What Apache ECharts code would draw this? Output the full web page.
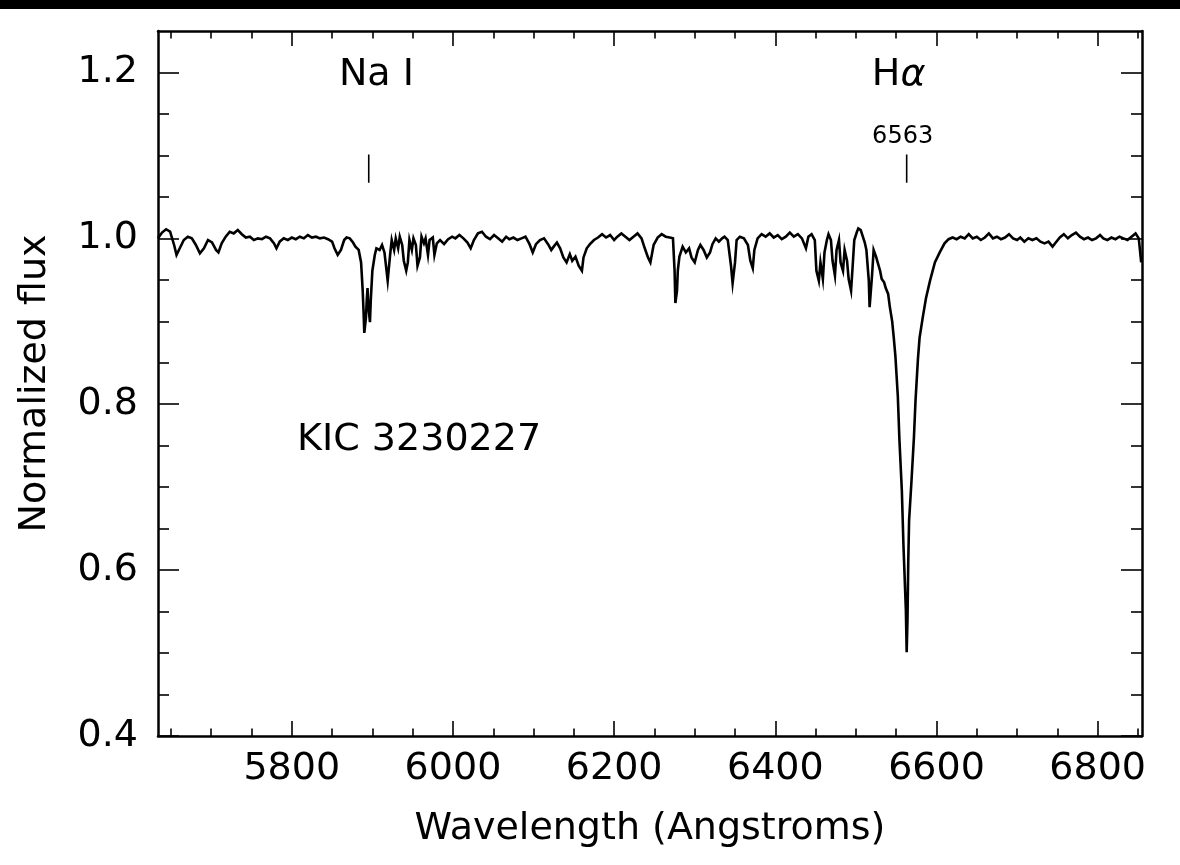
<!DOCTYPE html>
<html>
<head>
<meta charset="utf-8">
<script src="https://cdn.jsdelivr.net/npm/echarts@6/dist/echarts.min.js"></script>
<style>
html,body{margin:0;padding:0;background:#fff;}
#chart{width:1180px;height:865px;}
</style>
</head>
<body>
<div id="chart"></div>
<script>
// ---- data (wavelength in Angstroms, normalized flux) ----
const spectrum = [
[5634,1.000],[5639,1.007],[5644,1.011],[5649,1.008],[5654,0.992],[5657,0.980],[5661,0.988],[5666,0.998],[5671,1.002],[5676,1.000],
[5681,0.992],[5686,0.982],[5691,0.988],[5696,0.998],[5701,0.995],[5706,0.986],[5709,0.983],[5713,0.994],[5718,1.002],[5723,1.008],
[5728,1.006],[5733,1.010],[5738,1.005],[5743,1.001],[5748,1.002],[5753,0.998],[5758,1.000],[5763,0.999],[5768,1.002],[5773,1.000],
[5778,0.994],[5781,0.988],[5785,0.996],[5790,1.000],[5795,0.998],[5800,1.001],[5805,0.999],[5810,1.002],[5815,1.000],[5820,1.004],
[5825,1.001],[5830,1.002],[5835,1.000],[5840,1.001],[5845,0.999],[5850,0.996],[5853,0.988],[5857,0.980],[5861,0.986],[5865,0.998],
[5868,1.001],[5872,1.000],[5876,0.995],[5879,0.990],[5883,0.986],[5886,0.971],[5888,0.937],[5889,0.913],[5890,0.886],[5892,0.904],
[5893,0.925],[5894,0.940],[5895,0.919],[5897,0.899],[5898,0.925],[5900,0.961],[5903,0.980],[5905,0.988],[5909,0.986],[5912,0.992],
[5915,0.983],[5919,0.949],[5922,0.980],[5924,0.998],[5927,0.986],[5929,1.000],[5932,0.988],[5934,1.002],[5937,0.992],[5939,0.973],
[5942,0.961],[5944,0.971],[5946,0.998],[5949,0.986],[5951,1.000],[5954,0.992],[5956,0.967],[5959,0.977],[5961,1.002],[5964,0.994],
[5966,1.000],[5969,0.980],[5971,0.998],[5975,1.001],[5977,0.980],[5980,0.994],[5984,0.998],[5989,0.993],[5994,0.999],[5999,1.002],
[6003,1.000],[6008,1.004],[6013,1.000],[6018,0.995],[6022,0.988],[6026,0.998],[6031,1.006],[6036,1.008],[6041,1.002],[6046,0.999],
[6051,1.004],[6056,1.000],[6061,0.996],[6066,1.002],[6070,0.999],[6075,1.001],[6080,0.998],[6085,1.000],[6090,1.002],[6095,0.993],
[6099,0.983],[6103,0.993],[6108,0.998],[6113,1.000],[6118,0.993],[6122,0.986],[6125,0.990],[6129,0.995],[6133,0.988],[6137,0.977],
[6141,0.971],[6145,0.981],[6148,0.973],[6152,0.978],[6156,0.967],[6160,0.961],[6162,0.977],[6166,0.988],[6170,0.993],[6175,0.998],
[6180,1.001],[6185,1.005],[6190,1.001],[6195,1.004],[6200,0.998],[6204,1.002],[6209,1.006],[6214,1.002],[6219,0.998],[6224,1.002],
[6229,1.006],[6234,1.000],[6238,0.988],[6242,0.977],[6245,0.971],[6249,0.992],[6254,1.001],[6259,1.005],[6264,1.002],[6269,1.001],
[6273,1.000],[6275,0.961],[6276,0.922],[6278,0.937],[6279,0.961],[6281,0.978],[6285,0.990],[6289,0.983],[6293,0.988],[6296,0.977],
[6300,0.971],[6304,0.986],[6307,0.992],[6311,0.986],[6315,0.977],[6319,0.983],[6322,0.993],[6326,1.000],[6330,0.996],[6334,1.000],
[6337,1.002],[6341,0.998],[6345,0.967],[6347,0.946],[6350,0.971],[6352,0.998],[6356,1.002],[6361,1.000],[6366,0.992],[6369,0.973],
[6372,0.964],[6374,0.986],[6378,1.000],[6383,1.005],[6388,1.002],[6393,1.006],[6398,1.001],[6403,1.004],[6408,0.999],[6413,1.002],
[6418,1.007],[6423,1.002],[6428,1.005],[6433,1.000],[6438,0.988],[6441,1.002],[6445,1.005],[6449,0.998],[6451,0.961],[6454,0.949],
[6456,0.971],[6459,0.951],[6461,0.983],[6464,0.998],[6466,1.005],[6469,0.998],[6471,0.973],[6474,0.955],[6476,0.986],[6479,0.998],
[6481,0.971],[6484,0.961],[6486,0.986],[6489,0.973],[6491,0.951],[6494,0.937],[6496,0.967],[6498,0.998],[6501,1.007],[6503,1.012],
[6506,1.010],[6508,1.004],[6511,0.995],[6513,0.986],[6516,0.949],[6517,0.917],[6520,0.955],[6522,0.986],[6525,0.978],[6527,0.971],
[6530,0.961],[6532,0.951],[6535,0.947],[6537,0.940],[6540,0.933],[6542,0.918],[6545,0.900],[6547,0.880],[6549,0.858],[6552,0.810],
[6554,0.757],[6557,0.696],[6559,0.630],[6562,0.552],[6563,0.501],[6564,0.540],[6565,0.612],[6566,0.660],[6569,0.708],[6572,0.760],
[6574,0.805],[6577,0.855],[6579,0.880],[6583,0.905],[6587,0.928],[6592,0.949],[6598,0.971],[6604,0.983],[6610,0.994],[6615,0.999],
[6620,1.001],[6625,0.999],[6630,1.002],[6635,1.000],[6640,1.005],[6645,1.000],[6650,1.002],[6655,0.998],[6660,1.001],[6665,1.006],
[6670,1.000],[6675,1.002],[6680,0.999],[6685,1.001],[6690,1.005],[6695,1.000],[6700,0.998],[6704,1.001],[6709,0.996],[6714,1.000],
[6719,0.998],[6724,1.000],[6729,0.996],[6734,0.994],[6739,0.996],[6744,0.990],[6748,0.995],[6753,1.001],[6758,1.005],[6763,1.000],
[6768,1.004],[6773,1.007],[6778,1.002],[6783,0.999],[6788,1.001],[6793,0.998],[6798,1.000],[6803,1.004],[6807,1.000],[6812,0.998],
[6817,1.001],[6822,0.999],[6827,1.002],[6832,1.000],[6837,0.998],[6842,1.002],[6847,1.006],[6851,1.000],[6854,0.971]
];

const xRange = [5634, 6855];
const yRange = [0.4, 1.25];
const xMajorTicks = [5800, 6000, 6200, 6400, 6600, 6800];
const xMinorTicks = [5650,5700,5750,5850,5900,5950,6050,6100,6150,6250,6300,6350,6450,6500,6550,6650,6700,6750,6850];
const yMajorTicks = [0.4, 0.6, 0.8, 1.0, 1.2];
const yMinorTicks = [0.45,0.5,0.55,0.65,0.7,0.75,0.85,0.9,0.95,1.05,1.1,1.15];

// spectral line identifications: name, rest wavelength
const lineNames = ['Na I', 'Hα'];
const lineWavelengths = [5895.5, 6563];
const lineMarkFlux = [1.067, 1.101];   // extent of the short marker
const starName = 'KIC 3230227';
const hAlphaWavelengthText = '6563';

// ---- styling ----
const FONT = 'DejaVu Sans';
const TXT = '#000';
const chart = echarts.init(document.getElementById('chart'), null, {renderer: 'canvas'});

function xAx(pos, ticks, len, opts) {
  return Object.assign({
    type: 'value', gridIndex: 0, position: pos, min: xRange[0], max: xRange[1],
    axisLine: {show: true, onZero: false, lineStyle: {color: '#000', width: 2.5}},
    axisTick: {show: true, inside: true, length: len, customValues: ticks, lineStyle: {color: '#000', width: 1.6}},
    axisLabel: {show: false},
    splitLine: {show: false}
  }, opts || {});
}
function yAx(pos, ticks, len, opts) {
  return Object.assign({
    type: 'value', gridIndex: 0, position: pos, min: yRange[0], max: yRange[1],
    axisLine: {show: true, onZero: false, lineStyle: {color: '#000', width: 2.5}},
    axisTick: {show: true, inside: true, length: len, customValues: ticks, lineStyle: {color: '#000', width: 1.6}},
    axisLabel: {show: false},
    splitLine: {show: false}
  }, opts || {});
}

const option = {
  animation: false,
  backgroundColor: '#fff',
  graphic: [{type: 'rect', left: 0, top: 0, shape: {width: 1180, height: 9}, style: {fill: '#000'}}],
  grid: {left: 158, top: 31, width: 984, height: 705, containLabel: false},
  xAxis: [
    xAx('bottom', xMajorTicks, 15, {
      axisLabel: {show: true, customValues: xMajorTicks, margin: 14, fontFamily: FONT, fontSize: 38, color: TXT,
        formatter: v => String(Math.round(v))},
      name: 'Wavelength (Angstroms)', nameLocation: 'middle', nameGap: 74,
      nameTextStyle: {fontFamily: FONT, fontSize: 38, color: TXT}
    }),
    xAx('bottom', xMinorTicks, 7.5, {axisLine: {show: false}}),
    xAx('top', xMajorTicks, 15),
    xAx('top', xMinorTicks, 7.5, {axisLine: {show: false}})
  ],
  yAxis: [
    yAx('left', yMajorTicks, 21, {
      axisLabel: {show: true, customValues: yMajorTicks, margin: 20, fontFamily: FONT, fontSize: 38, color: TXT,
        formatter: v => Number(v).toFixed(1)},
      name: 'Normalized flux', nameLocation: 'middle', nameGap: 104, nameRotate: 90,
      nameTextStyle: {fontFamily: FONT, fontSize: 38, color: TXT}
    }),
    yAx('left', yMinorTicks, 11, {axisLine: {show: false}}),
    yAx('right', yMajorTicks, 21),
    yAx('right', yMinorTicks, 11, {axisLine: {show: false}})
  ],
  series: [
    {
      type: 'line', xAxisIndex: 0, yAxisIndex: 0, data: spectrum,
      showSymbol: false, symbol: 'none', sampling: null,
      lineStyle: {color: '#000', width: 2.6, join: 'miter'}, clip: true, silent: true, z: 5
    }
  ]
};

// short vertical markers at the line wavelengths
lineWavelengths.forEach((wl, i) => {
  option.series.push({
    type: 'line', xAxisIndex: 0, yAxisIndex: 0, silent: true, symbol: 'none',
    data: [[wl, lineMarkFlux[0]], [wl, lineMarkFlux[1]]],
    lineStyle: {color: '#000', width: 1.6}
  });
});

// text annotations anchored in data coordinates
const textLabels = [
  {value: [5905, 1.197], text: lineNames[0], size: 38},
  {value: [6553, 1.197], text: '{h|H}{a|α}', size: 38},
  {value: [6558, 1.123], text: hAlphaWavelengthText, size: 24},
  {value: [5958, 0.757], text: starName, size: 38}
];
option.series.push({
  type: 'scatter', xAxisIndex: 0, yAxisIndex: 0, silent: true, symbolSize: 0,
  itemStyle: {color: '#000'},
  data: textLabels.map(t => ({
    value: t.value,
    label: {
      show: true, position: 'inside', formatter: t.text,
      fontFamily: FONT, fontSize: t.size, color: TXT, textBorderWidth: 0, opacity: 1,
      rich: {h: {fontFamily: FONT, fontSize: t.size, color: TXT, textBorderWidth: 0},
             a: {fontFamily: FONT, fontSize: t.size, color: TXT, fontStyle: 'italic', textBorderWidth: 0}}
    }
  }))
});

chart.setOption(option);
</script>
</body>
</html>
